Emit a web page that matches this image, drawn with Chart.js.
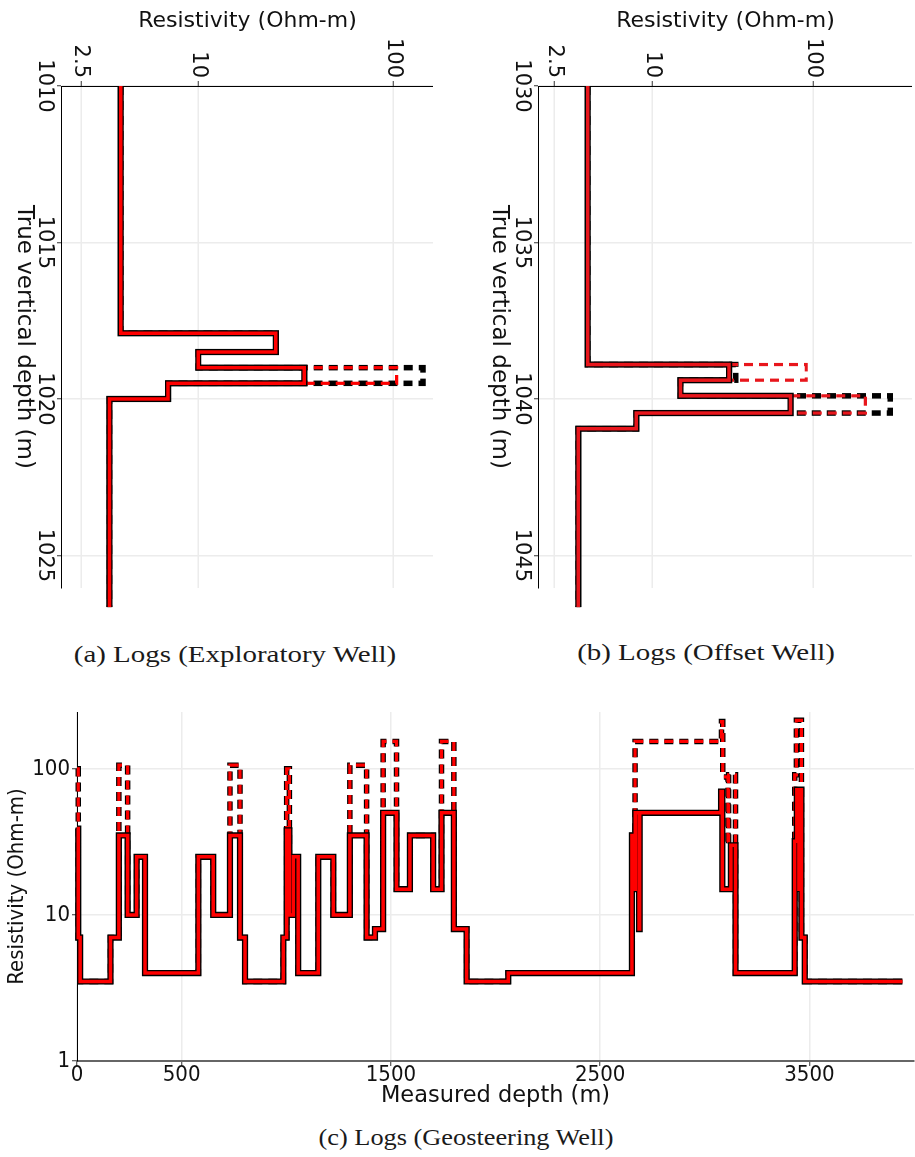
<!DOCTYPE html>
<html>
<head>
<meta charset="utf-8">
<title>Resistivity logs</title>
<script src="https://cdn.jsdelivr.net/npm/chart.js@4.4.1/dist/chart.umd.min.js"></script>
<style>
  html, body { margin: 0; padding: 0; background: #fff; }
  body { position: relative; width: 915px; height: 1157px; overflow: hidden; }
  .panel { position: absolute; }
  .panel canvas { position: absolute; left: 0; top: 0; transform-origin: 0 0; }
  .cap { position: absolute; white-space: nowrap; font-family: "Liberation Serif", "DejaVu Serif", serif;
         font-size: 24px; color: #1a1a1a; transform: translate(-50%, -50%); }
</style>
</head>
<body>
<div class="panel" style="left:0;top:0;width:450px;height:620px">
  <canvas id="expCanvas" width="620" height="450" style="transform: translateX(450px) rotate(90deg)"></canvas>
</div>
<div class="panel" style="left:450px;top:0;width:465px;height:620px">
  <canvas id="offCanvas" width="620" height="465" style="transform: translateX(465px) rotate(90deg)"></canvas>
</div>
<div class="panel" style="left:0;top:700px;width:915px;height:420px">
  <canvas id="geoCanvas" width="915" height="420"></canvas>
</div>
<div class="cap" id="capA" style="left:235px;top:654px">(a) Logs (Exploratory Well)</div>
<div class="cap" id="capB" style="left:706px;top:652px">(b) Logs (Offset Well)</div>
<div class="cap" id="capC" style="left:466px;top:1137px">(c) Logs (Geosteering Well)</div>
<script>
// ---- Exploratory well: layer tops (m TVD) and resistivity per layer (ohm-m)
const expDepth     = [1010, 1017.9, 1018.5, 1019.0, 1019.5, 1020.0, 1026.65];
const expRes       = [4.0, 25, 10, 35, 7, 3.5, 3.5];
const expResBlack  = [4.0, 25, 10, 142, 7, 3.5, 3.5];
const expResRed    = [4.0, 25, 10, 104, 7, 3.5, 3.5];
const expDepthTicks = [1010, 1015, 1020, 1025];

// ---- Offset well
const offDepth     = [1030, 1038.9, 1039.4, 1039.9, 1040.45, 1040.95, 1046.65];
const offRes       = [4.0, 30, 15, 72, 8, 3.5, 3.5];
const offResBlack  = [4.0, 33, 15, 298, 8, 3.5, 3.5];
const offResRed    = [4.0, 90, 15, 209, 8, 3.5, 3.5];
const offDepthTicks = [1030, 1035, 1040, 1045];

const wellResTicks = [2.5, 10, 100];

// ---- Geosteering well: layer starts along measured depth (m)
const geoMd  = [0, 6, 15, 160, 200, 242, 285, 325, 580, 651, 731, 779, 803, 986, 1002, 1015, 1034, 1057,
                1153, 1225, 1304, 1384, 1424, 1463, 1527, 1591, 1702, 1742, 1801, 1862, 2061, 2652, 2665,
                2668, 2686, 2689, 3078, 3084, 3125, 3147, 3430, 3440, 3450, 3453, 3462, 3478, 3945];
const geoRes = [39, 7, 3.5, 7, 35, 10, 25, 4, 25, 10, 35, 7, 3.5, 7, 38, 10, 25, 4,
                25, 10, 35, 7, 8, 50, 15, 35, 15, 50, 8, 3.5, 4, 35, 15,
                50, 8, 50, 70, 15, 30, 4, 32, 72, 15, 72, 7, 3.5, 3.5];
const geoDashMd  = [0, 6, 15, 160, 200, 242, 285, 325, 580, 651, 731, 779, 803, 986, 1002, 1015, 1034, 1057,
                    1153, 1225, 1304, 1384, 1424, 1463, 1527, 1591, 1702, 1742, 1801, 1862, 2061, 2652, 2667,
                    3080, 3086, 3111, 3114, 3147, 3430, 3438, 3462, 3478, 3945];
const geoDashRes = [100, 7, 3.5, 7, 106, 10, 25, 4, 25, 10, 106, 7, 3.5, 7, 100, 10, 25, 4,
                    25, 10, 106, 7, 8, 154, 15, 35, 15, 154, 8, 3.5, 4, 35, 154,
                    211, 88, 30, 91, 4, 91, 215, 7, 3.5, 3.5];
const geoMdTicks  = [0, 500, 1500, 2500, 3500];
const geoResTicks = [1, 10, 100];

// ---- drawing helpers
const SANS = '"DejaVu Sans", sans-serif';
const SANS_NARROW = '"DejaVu Sans Condensed", "DejaVu Sans", sans-serif';

function steps(xs, ys) { return xs.map((x, i) => ({ x: x, y: ys[i] })); }

function logTraces(solid, dashBlack, dashRed, red) {
  const line = { showLine: true, stepped: 'before', pointRadius: 0, pointHoverRadius: 0, pointHitRadius: 0,
                 clip: false, borderJoinStyle: 'miter', borderCapStyle: 'butt', fill: false };
  return [
    { ...line, data: solid, borderColor: red, borderWidth: 3.5, order: 0 },
    { ...line, data: solid, borderColor: '#000', borderWidth: 6.2, order: 1 },
    { ...line, data: dashRed, borderColor: red, borderWidth: 3.2, borderDash: [9, 6], order: 2 },
    { ...line, data: dashBlack, borderColor: '#000', borderWidth: 5.5, borderDash: [9, 6], order: 3 }
  ];
}

function axis(o) {
  return {
    type: o.type, position: o.position, min: o.min, max: o.max,
    afterBuildTicks: s => { s.ticks = o.ticks.map(v => ({ value: v })); },
    afterFit: s => {
      s[o.sizeProp] = o.size;
      s.paddingTop = 0; s.paddingBottom = 0; s.paddingLeft = 0; s.paddingRight = 0;
    },
    ticks: { color: '#111', font: { family: o.tickFamily, size: o.tickSize }, padding: o.tickPad,
             maxRotation: 0, minRotation: 0, autoSkip: false, callback: v => String(v) },
    grid: { color: '#ececec', lineWidth: 1.5, drawTicks: true, tickLength: 5, tickColor: '#333', tickWidth: 1 },
    border: { display: true, color: o.borderColor || '#000', width: o.borderWidth || 1 },
    title: { display: true, text: o.title, color: '#111', font: { family: o.titleFamily, size: o.titleSize },
             padding: o.titlePad }
  };
}

function makeChart(id, datasets, padding, x, y) {
  return new Chart(document.getElementById(id), {
    type: 'scatter',
    data: { datasets: datasets },
    options: {
      responsive: false, animation: false, devicePixelRatio: 1, events: [],
      layout: { padding: padding },
      plugins: { legend: { display: false }, tooltip: { enabled: false } },
      scales: { x: x, y: y }
    }
  });
}

// Well panels are laid out depth-along-x and turned a quarter turn by CSS,
// so depth runs downwards and resistivity reads across the top.
function wellPanel(id, depth, res, resBlack, resRed, depthTicks, resMax, red, xHeight, xTitlePad, padTop) {
  return makeChart(id,
    logTraces(steps(depth, res), steps(depth, resBlack), steps(depth, resRed), red),
    { top: padTop, right: 32, bottom: 0, left: 0 },
    axis({ type: 'linear', position: 'bottom', min: depth[0], max: depth[0] + 16.04, ticks: depthTicks,
           sizeProp: 'height', size: xHeight, tickFamily: SANS, tickSize: 21, tickPad: 0,
           title: 'True vertical depth (m)', titleFamily: SANS, titleSize: 23,
           titlePad: { top: 0, bottom: xTitlePad } }),
    axis({ type: 'logarithmic', position: 'left', min: 2, max: resMax, ticks: wellResTicks,
           sizeProp: 'width', size: 86, tickFamily: SANS, tickSize: 21, tickPad: 3,
           title: 'Resistivity (Ohm-m)', titleFamily: SANS, titleSize: 22,
           titlePad: { top: 8, bottom: 0 } })
  );
}

Chart.defaults.font.family = SANS;

const expChart = wellPanel('expCanvas', expDepth, expRes, expResBlack, expResRed, expDepthTicks, 160,
                           '#ff0000', 62, 10, 17);
const offChart = wellPanel('offCanvas', offDepth, offRes, offResBlack, offResRed, offDepthTicks, 406,
                           '#e8161c', 89, 35, 3);

const geoChart = makeChart('geoCanvas',
  logTraces(steps(geoMd, geoRes), steps(geoDashMd, geoDashRes), steps(geoDashMd, geoDashRes), '#ff0000'),
  { top: 12, right: 1, bottom: 0, left: 0 },
  axis({ type: 'linear', position: 'bottom', min: 0, max: 4000, ticks: geoMdTicks,
         sizeProp: 'height', size: 59, tickFamily: SANS_NARROW, tickSize: 22, tickPad: -4,
         borderColor: '#666', borderWidth: 2,
         title: 'Measured depth (m)', titleFamily: SANS, titleSize: 22.5, titlePad: { top: 0, bottom: 10 } }),
  axis({ type: 'logarithmic', position: 'left', min: 1, max: 245, ticks: geoResTicks,
         sizeProp: 'width', size: 77, tickFamily: SANS_NARROW, tickSize: 22, tickPad: 2,
         title: 'Resistivity (Ohm-m)', titleFamily: SANS_NARROW, titleSize: 22, titlePad: { top: 4, bottom: 0 } })
);

// caption widths
(function () {
  const a = document.getElementById('capA');
  const b = document.getElementById('capB');
  const c = document.getElementById('capC');
  const k = 323 / a.offsetWidth;
  a.style.transform = 'translate(-50%, -50%) scaleX(' + k + ')';
  b.style.transform = 'translate(-50%, -50%) scaleX(' + k + ')';
  c.style.transform = 'translate(-50%, -50%) scaleX(' + (295 / c.offsetWidth) + ')';
})();
</script>
</body>
</html>
